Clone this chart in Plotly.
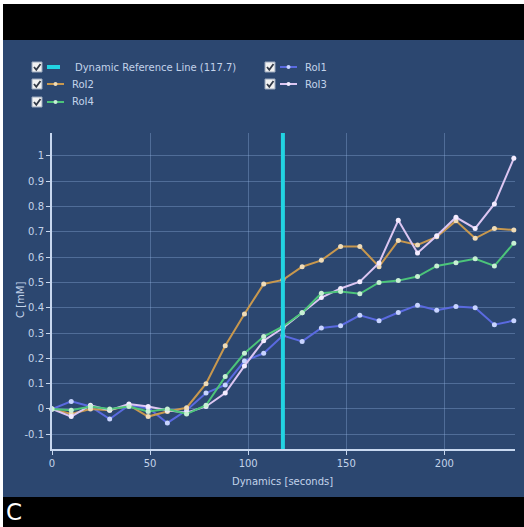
import plotly.graph_objects as go

# ---------------- data ----------------
times = [0, 9.8, 19.6, 29.4, 39.2, 49.0, 58.8, 68.6, 78.5, 88.3, 98.1, 107.9, 117.7,
         127.5, 137.3, 147.1, 156.9, 166.7, 176.5, 186.3, 196.1, 205.9, 215.7, 225.5, 235.4]
roi1 = [0.00, 0.03, 0.01, -0.04, 0.015, 0.005, -0.055, -0.005, 0.063, 0.095, 0.19, 0.22, 0.29,
        0.267, 0.32, 0.329, 0.37, 0.349, 0.381, 0.41, 0.39, 0.405, 0.40, 0.333, 0.349]
roi2 = [0.00, -0.02, 0.00, -0.005, 0.015, -0.03, -0.01, 0.005, 0.10, 0.25, 0.375, 0.494, 0.51,
        0.562, 0.587, 0.642, 0.642, 0.562, 0.665, 0.648, 0.68, 0.743, 0.674, 0.713, 0.707]
roi3 = [0.00, -0.03, 0.015, -0.005, 0.02, 0.01, -0.005, -0.015, 0.01, 0.063, 0.17, 0.27, 0.32,
        0.38, 0.44, 0.476, 0.503, 0.577, 0.745, 0.616, 0.684, 0.757, 0.713, 0.81, 0.99]
roi4 = [0.00, -0.005, 0.01, 0.00, 0.01, -0.01, 0.00, -0.02, 0.015, 0.128, 0.22, 0.286, 0.326,
        0.38, 0.457, 0.464, 0.455, 0.50, 0.507, 0.523, 0.565, 0.578, 0.593, 0.565, 0.655]
ref_time = 117.7
ref_label = "Dynamic Reference Line (117.7)"
series_names = ["RoI1", "RoI2", "RoI3", "RoI4"]
x_ticks = [0, 50, 100, 150, 200]
y_ticks = [-0.1, 0, 0.1, 0.2, 0.3, 0.4, 0.5, 0.6, 0.7, 0.8, 0.9, 1]
y_tick_text = ["-0.1", "0", "0.1", "0.2", "0.3", "0.4", "0.5", "0.6", "0.7", "0.8", "0.9", "1"]

# ---------------- style ----------------
W, H = 524, 527
L, R, T, B = 52, 515, 133, 449
NAVY = "#2c4770"
TXT = "#c3d3ea"
AX = "#c8d8f0"
GRID = "rgba(150,180,225,0.35)"
FONT = "DejaVu Sans"
colors = {"RoI1": "#5a6ae0", "RoI2": "#c8984e", "RoI3": "#dcc6f2", "RoI4": "#4cc47a"}
mcolors = {"RoI1": "#c8d4ff", "RoI2": "#f0dcb8", "RoI3": "#f4ecff", "RoI4": "#c8f0d4"}
REF = "#22d3e2"


def px(x):
    return (x - L) / (R - L)


def py(y):
    return (B - y) / (B - T)


fig = go.Figure()
data = {"RoI1": roi1, "RoI2": roi2, "RoI3": roi3, "RoI4": roi4}
for name in series_names:
    fig.add_trace(go.Scatter(
        x=times, y=data[name], mode="lines+markers", name=name,
        line=dict(color=colors[name], width=2),
        marker=dict(color=mcolors[name], size=5),
        showlegend=False, cliponaxis=False))

shapes = []
# reference line
shapes.append(dict(type="line", xref="x", yref="paper", x0=ref_time, x1=ref_time, y0=0, y1=1,
                   line=dict(color=REF, width=4), layer="above"))
# black bands and white border
shapes.append(dict(type="rect", xref="paper", yref="paper", x0=px(0), x1=px(W), y0=py(0), y1=py(40),
                   fillcolor="black", line=dict(width=0), layer="above"))
shapes.append(dict(type="rect", xref="paper", yref="paper", x0=px(0), x1=px(W), y0=py(497), y1=py(H),
                   fillcolor="black", line=dict(width=0), layer="above"))
shapes.append(dict(type="rect", xref="paper", yref="paper", x0=px(0), x1=px(3), y0=py(0), y1=py(H),
                   fillcolor="white", line=dict(width=0), layer="above"))
shapes.append(dict(type="rect", xref="paper", yref="paper", x0=px(0), x1=px(W), y0=py(0), y1=py(4),
                   fillcolor="white", line=dict(width=0), layer="above"))

annotations = []
# manual legend
legend_items = [
    (ref_label, REF, None, 32, 67, 73, True),
    ("RoI1", colors["RoI1"], mcolors["RoI1"], 265, 67, 303, False),
    ("RoI2", colors["RoI2"], mcolors["RoI2"], 32, 84, 70, False),
    ("RoI3", colors["RoI3"], mcolors["RoI3"], 265, 84, 303, False),
    ("RoI4", colors["RoI4"], mcolors["RoI4"], 32, 102, 70, False),
]
for label, col, mcol, bx, cy, tx, is_ref in legend_items:
    shapes.append(dict(type="rect", xref="paper", yref="paper", x0=px(bx), x1=px(bx + 10),
                       y0=py(cy - 5), y1=py(cy + 5), fillcolor="#f2f2f2",
                       line=dict(color="#9aa8bc", width=1), layer="above"))
    path = "M {:.4f} {:.4f} L {:.4f} {:.4f} L {:.4f} {:.4f}".format(
        px(bx + 2), py(cy), px(bx + 4.3), py(cy + 2.8), px(bx + 8.5), py(cy - 3))
    shapes.append(dict(type="path", xref="paper", yref="paper", path=path,
                       line=dict(color="#333b48", width=1.8), layer="above"))
    lx0 = bx + 15
    lx1 = bx + (28 if is_ref else 32)
    shapes.append(dict(type="line", xref="paper", yref="paper", x0=px(lx0), x1=px(lx1),
                       y0=py(cy), y1=py(cy), line=dict(color=col, width=4 if is_ref else 2),
                       layer="above"))
    if mcol:
        mx = (lx0 + lx1) / 2
        shapes.append(dict(type="circle", xref="paper", yref="paper", x0=px(mx - 2), x1=px(mx + 2),
                           y0=py(cy - 2), y1=py(cy + 2), fillcolor=mcol, line=dict(width=0),
                           layer="above"))
    annotations.append(dict(text=label, xref="paper", yref="paper", x=px(tx), y=py(cy),
                            xanchor="left", yanchor="middle", showarrow=False,
                            font=dict(family=FONT, size=10, color=TXT)))

# axis titles
annotations.append(dict(text="C [mM]", xref="paper", yref="paper", x=px(20), y=py(300),
                        textangle=-90, showarrow=False, xanchor="center", yanchor="middle",
                        font=dict(family=FONT, size=10, color=TXT)))
annotations.append(dict(text="Dynamics [seconds]", xref="paper", yref="paper", x=px(282), y=py(481),
                        showarrow=False, xanchor="center", yanchor="middle",
                        font=dict(family=FONT, size=10, color=TXT)))
# panel letter
annotations.append(dict(text="C", xref="paper", yref="paper", x=px(4), y=py(512),
                        showarrow=False, xanchor="left", yanchor="middle",
                        font=dict(family=FONT, size=23, color="white")))

fig.update_layout(
    width=W, height=H,
    margin=dict(l=L, r=W - R, t=T, b=H - B, pad=0),
    paper_bgcolor=NAVY, plot_bgcolor=NAVY,
    showlegend=False,
    shapes=shapes, annotations=annotations,
    xaxis=dict(range=[0, 236], tickvals=x_ticks, showgrid=True, gridcolor=GRID, gridwidth=1,
               zeroline=False, showline=True, linecolor=AX, linewidth=2,
               ticks="outside", ticklen=4, tickcolor=AX,
               tickfont=dict(family=FONT, size=10, color=TXT)),
    yaxis=dict(range=[-0.158, 1.09], tickvals=y_ticks, ticktext=y_tick_text, showgrid=True,
               gridcolor=GRID, gridwidth=1, zeroline=False, showline=True, linecolor=AX,
               linewidth=2, ticks="outside", ticklen=4, tickcolor=AX,
               tickfont=dict(family=FONT, size=10, color=TXT)),
)

fig.write_html("out.html",
               config={"displayModeBar": False},
               post_script="document.body.style.margin='0';document.body.style.padding='0';"
                           "document.documentElement.style.overflow='hidden';")
